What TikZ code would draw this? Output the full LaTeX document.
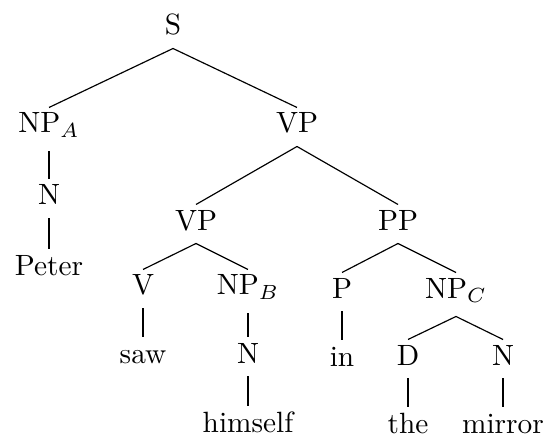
\documentclass[tikz,border=0pt]{standalone}
\usepackage{amsmath}
\usepackage{tikz}

\begin{document}
\begin{tikzpicture}[x=0.341pt, y=-0.341pt,
		tn/.style={anchor=base, inner xsep=1pt, inner ysep=1.6pt, text height=6.9pt, text depth=2.8pt},
		sn/.style={tn, text depth=4.5pt}]
			\useasboundingbox (0, 0) rectangle (547, 437);
			\node[tn] (s) at (173, 35) {S};
			\node[sn] (npa) at (49, 133) {NP$_A$};
			\node[tn] (vp) at (297, 133) {VP};
			\node[tn] (na) at (49, 205) {N};
			\node[tn] (peter) at (49, 275) {Peter};
			\node[tn] (vpb) at (196, 230) {VP};
			\node[tn] (pp) at (398, 230) {PP};
			\node[tn] (v) at (143, 295) {V};
			\node[sn] (npb) at (248, 295) {NP$_B$};
			\node[tn] (p) at (342, 298) {P};
			\node[sn] (npc) at (456, 298) {NP$_C$};
			\node[tn] (saw) at (143, 363) {saw};
			\node[tn] (nb) at (248, 363) {N};
			\node[tn] (in) at (342, 366) {in};
			\node[tn] (d) at (408, 365) {D};
			\node[tn] (nc) at (503, 365) {N};
			\node[tn] (himself) at (248, 432) {himself};
			\node[tn] (the) at (408, 433) {the};
			\node[tn] (mirror) at (503, 433) {mirror};
			\foreach \a/\b in {s/npa, s/vp, npa/na, na/peter, vp/vpb, vp/pp, vpb/v, vpb/npb, pp/p, pp/npc, v/saw, npb/nb, p/in, npc/d, npc/nc, nb/himself, d/the, nc/mirror}
				\draw (\a.south) -- (\b.north);
		\end{tikzpicture}
\end{document}
